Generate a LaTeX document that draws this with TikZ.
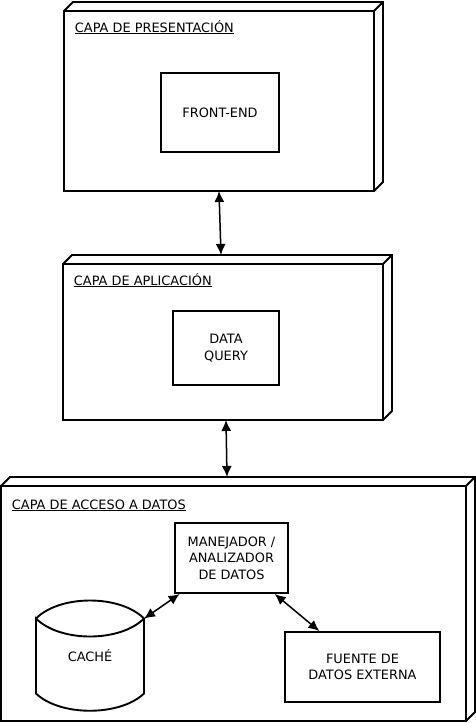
\documentclass[tikz,border=0pt]{standalone}
\usepackage{fontspec}
\setmainfont{DejaVu Sans}
\usetikzlibrary{arrows.meta,positioning}

\begin{document}
\begin{tikzpicture}[
  x=1pt, y=-1pt,
  line width=1.9pt,
  >={Latex[length=11pt,width=10pt]},
  every node/.style={font=\fontsize{12.9}{16.5}\selectfont},
  layer/.style={rectangle, draw, inner sep=0pt, outer sep=0pt},
  lbl/.style={anchor=base west, inner sep=0pt},
  block/.style={rectangle, draw, align=center, inner sep=0pt},
  store/.style={rectangle, inner sep=0pt, outer sep=0pt},
  line/.style={draw, line width=1.5pt, <->}
]
\useasboundingbox (0,0) rectangle (476,723);

% capas
\node[layer, minimum width=310, minimum height=180] (pres) at (219,101) {};
\node[layer, minimum width=320, minimum height=156] (app) at (223,342) {};
\node[layer, minimum width=465, minimum height=235] (datos) at (233.5,603.5) {};

\foreach \n in {pres,app,datos}
  \draw (\n.north west) -- ++(9,-9) -| ([shift={(9pt,9pt)}]\n.south east) -- (\n.south east)
        (\n.north east) -- ++(9,-9);

\node[lbl] (presLbl) at ([xshift=10pt,yshift=-21pt]pres.north west) {\underline{CAPA DE PRESENTACIÓN}};
\node[lbl] (appLbl) at ([xshift=10pt,yshift=-21pt]app.north west) {\underline{CAPA DE APLICACIÓN}};
\node[lbl] (datosLbl) at ([xshift=10pt,yshift=-23pt]datos.north west) {\underline{CAPA DE ACCESO A DATOS}};

% componentes
\node[block, minimum width=118, minimum height=79] (front) at (220,112.5) {FRONT-END};
\node[block, minimum width=106, minimum height=74] (query) at (226,348) {DATA\\QUERY};
\node[block, minimum width=113, minimum height=70] (mane) at (231.5,558) {MANEJADOR /\\ANALIZADOR\\DE DATOS};
\node[block, minimum width=155, minimum height=70] (fuente) at (362.5,667) {FUENTE DE\\DATOS EXTERNA};
\node[store, minimum width=108, minimum height=109] (cache) at (90,656) {\raisebox{-7pt}{CACHÉ}};

% cilindro de la cache
\draw ([yshift=-17pt]cache.north west) .. controls +(24,-24) and +(-24,-24) .. ([yshift=-17pt]cache.north east)
      .. controls +(-24,24) and +(24,24) .. ([yshift=-17pt]cache.north west)
      -- ([yshift=17pt]cache.south west) .. controls +(24,23) and +(-24,23) .. ([yshift=17pt]cache.south east)
      -- ([yshift=-17pt]cache.north east);

\path[line] (pres.south) -- ([xshift=-2pt,yshift=9pt]app.north);
\path[line] ([xshift=3pt]app.south) -- ([xshift=-6.5pt,yshift=9pt]datos.north);
\path[line] (cache) -- (mane);
\path[line] (mane) -- (fuente);

\end{tikzpicture}
\end{document}
